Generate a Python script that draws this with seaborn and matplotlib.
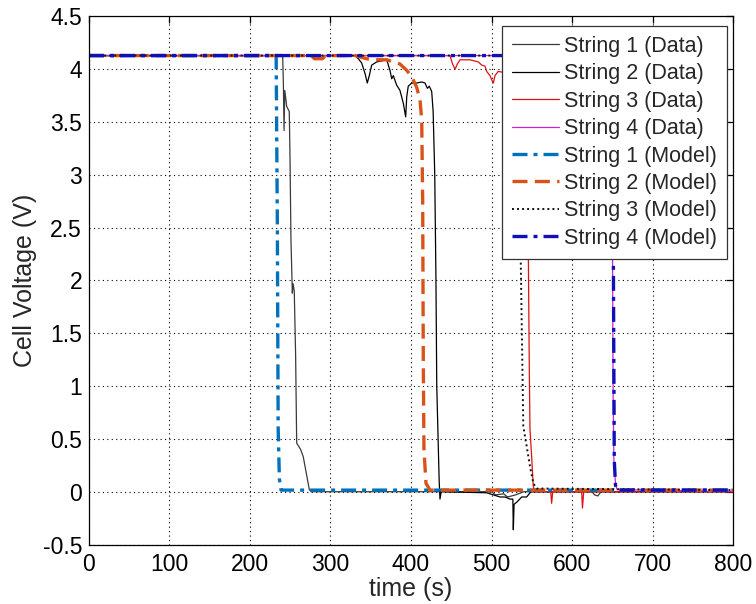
import matplotlib
matplotlib.use("Agg")
import matplotlib.pyplot as plt
import seaborn as sns
import pandas as pd

# ---- measured cell voltages (time in s, voltage in V) ----
s1_data_t = [0, 240.6, 241.5, 242.3, 243.2, 244.7, 245.5, 248.8, 249.7, 250.9, 252.6,
             253.5, 255.0, 256.7, 258.0, 262.9, 266.2, 273.7, 276, 500, 505, 515, 520,
             530, 540, 625, 628, 632, 636, 800]
s1_data_v = [4.13, 4.13, 3.85, 3.42, 3.80, 3.71, 3.65, 3.60, 3.17, 2.38, 1.88,
             1.97, 1.90, 1.28, 0.46, 0.40, 0.33, 0.02, 0.0, 0.0, -0.03, -0.02, -0.05,
             -0.03, 0.0, 0.0, -0.03, -0.04, 0.0, 0.0]

s2_data_t = [0, 330.4, 334.5, 338.7, 342.9, 345.7, 348.2, 351.2, 357.4, 369.8, 373.9,
             376, 378, 382.2, 386.3, 390.4, 393.4, 394.7, 396.6, 400.9, 407, 413.3,
             417.4, 420.3, 422.7, 425.7, 427.5, 429.5, 431, 432, 433.5, 435, 436,
             437.5, 494, 502.3, 510.6, 516.8, 523, 526.5, 527.1, 528, 531.3, 537.5,
             543.7, 547.8, 550, 800]
s2_data_v = [4.13, 4.13, 4.10, 4.06, 3.96, 3.87, 3.94, 4.04, 4.07, 4.09, 3.99,
             3.91, 3.94, 3.85, 3.80, 3.68, 3.55, 3.74, 3.84, 3.87, 3.87, 3.88,
             3.87, 3.82, 3.84, 3.79, 3.60, 3.00, 2.00, 1.00, 0.55, 0.10, -0.07,
             0.0, -0.01, -0.03, -0.05, -0.05, -0.07, -0.07, -0.36, -0.12, -0.10, -0.05,
             -0.05, -0.01, 0.0, 0.0]

s3_data_t = [0, 446, 448.4, 451.7, 454.7, 457.6, 460.9, 473.3, 483.6, 487.8, 491.9,
             494, 498.1, 500.2, 502.3, 504.3, 508.4, 515, 525, 535, 542, 544.5,
             545.8, 547, 547.8, 549.9, 551.9, 554, 573.5, 574.7, 576, 612, 613,
             614.5, 800]
s3_data_v = [4.13, 4.13, 4.13, 4.05, 4.00, 4.05, 4.09, 4.09, 4.07, 4.04, 4.03,
             3.98, 3.94, 3.90, 3.87, 3.94, 3.98, 3.97, 3.95, 3.93, 3.90, 3.60,
             2.20, 1.12, 0.59, 0.33, 0.05, 0.0, 0.0, -0.11, 0.0, 0.0, -0.155,
             0.0, 0.0]

s4_data_t = [0, 649, 650, 651, 652, 654, 656, 800]
s4_data_v = [4.13, 4.13, 3.0, 1.0, 0.3, 0.08, 0.02, 0.0]

# ---- model predictions ----
s1_model_t = [0, 232.5, 234, 235, 236.5, 238.5, 800]
s1_model_v = [4.13, 4.13, 2.5, 0.6, 0.12, 0.015, 0.015]

s2_model_t = [0, 276, 280, 290, 294, 331, 340, 345, 353, 369.8, 378, 386.3, 394.7,
              400.9, 407, 411.2, 413.3, 414.5, 415.3, 416.1, 418.6, 423.6, 800]
s2_model_v = [4.13, 4.13, 4.10, 4.10, 4.13, 4.13, 4.11, 4.10, 4.09, 4.09, 4.07, 4.05,
              3.99, 3.93, 3.83, 3.71, 3.52, 2.76, 1.19, 0.40, 0.08, 0.015, 0.015]

s3_model_t = [0, 534, 536.3, 539.5, 543.7, 547.8, 552, 556, 800]
s3_model_v = [4.13, 4.13, 2.2, 0.62, 0.43, 0.24, 0.08, 0.03, 0.015]

s4_model_t = [0, 650.5, 651.5, 652.5, 654, 656, 800]
s4_model_v = [4.13, 4.13, 2.0, 0.3, 0.06, 0.015, 0.015]

x_ticks = [0, 100, 200, 300, 400, 500, 600, 700, 800]
y_ticks = [-0.5, 0, 0.5, 1, 1.5, 2, 2.5, 3, 3.5, 4, 4.5]
y_tick_labels = ["-0.5", "0", "0.5", "1", "1.5", "2", "2.5", "3", "3.5", "4", "4.5"]

sns.set_style("white")
plt.rcParams["font.family"] = ["Liberation Sans", "DejaVu Sans"]

fig, ax = plt.subplots(figsize=(7.56, 6.04), dpi=100)
fig.subplots_adjust(left=0.1177, right=0.9696, top=0.9727, bottom=0.0985)

series = [
    ("String 1 (Data)", s1_data_t, s1_data_v, dict(color="#3a3a3a", lw=0.9, ls="-")),
    ("String 2 (Data)", s2_data_t, s2_data_v, dict(color="#000000", lw=0.9, ls="-")),
    ("String 3 (Data)", s3_data_t, s3_data_v, dict(color="#e01010", lw=0.9, ls="-")),
    ("String 4 (Data)", s4_data_t, s4_data_v, dict(color="#cc22cc", lw=0.9, ls="-")),
    ("String 1 (Model)", s1_model_t, s1_model_v, dict(color="#0072BD", lw=2.4, ls="-.")),
    ("String 2 (Model)", s2_model_t, s2_model_v, dict(color="#D95319", lw=2.4, ls="--")),
    ("String 3 (Model)", s3_model_t, s3_model_v, dict(color="#111111", lw=1.4, ls=":")),
    ("String 4 (Model)", s4_model_t, s4_model_v, dict(color="#1010b8", lw=2.4, ls="-.")),
]

dash_styles = {"-.": (4.5, 1.8, 1.2, 1.8), "--": (4.5, 2.2), ":": (1, 1.6)}

for label, t, v, st in series:
    df = pd.DataFrame({"time": t, "voltage": v})
    sns.lineplot(data=df, x="time", y="voltage", ax=ax, label=label,
                 color=st["color"], linewidth=st["lw"], estimator=None, sort=False)
    line = ax.lines[-1]
    if st["ls"] in dash_styles:
        line.set_dashes(dash_styles[st["ls"]])

ax.set_xlim(0, 800)
ax.set_ylim(-0.5, 4.5)
ax.set_xticks(x_ticks)
ax.set_xticklabels([str(x) for x in x_ticks])
ax.set_yticks(y_ticks)
ax.set_yticklabels(y_tick_labels)

ax.grid(True, color="black", linestyle=(0, (1, 3)), linewidth=0.8)
for sp in ax.spines.values():
    sp.set_visible(True)
    sp.set_color("black")
    sp.set_linewidth(0.9)
ax.tick_params(direction="in", length=5, width=0.9, top=True, right=True,
               labelsize=16.5, colors="black")
ax.tick_params(axis="x", pad=6)
ax.tick_params(axis="y", pad=5)

ax.set_xlabel("time (s)", fontsize=18, color="#262626", labelpad=1)
ax.set_ylabel("Cell Voltage (V)", fontsize=18, color="#262626", labelpad=4)

leg = ax.legend(loc="upper left", bbox_to_anchor=(0.6413, 0.982), borderaxespad=0,
                fontsize=15.5, frameon=True, fancybox=False, framealpha=1,
                handlelength=2.2, handletextpad=0.25, labelspacing=0.30,
                borderpad=0.45)
leg.get_frame().set_edgecolor("#333333")
leg.get_frame().set_linewidth(0.9)

fig.savefig("out.png", dpi=100)
